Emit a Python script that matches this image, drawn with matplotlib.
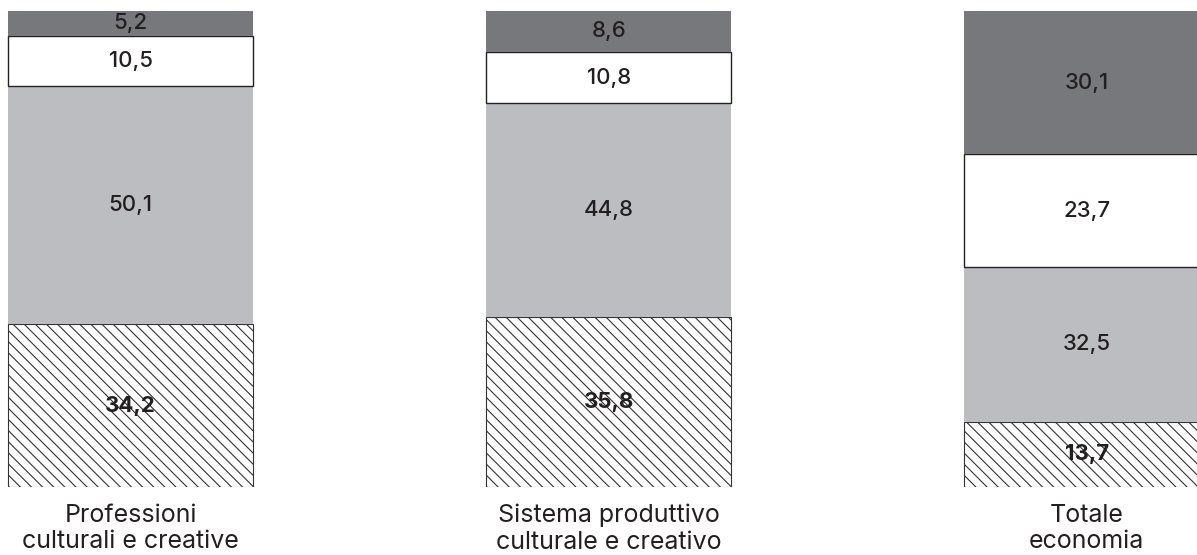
import matplotlib.pyplot as plt

plt.rcParams['font.family'] = ['Inter', 'DejaVu Sans']
plt.rcParams['hatch.linewidth'] = 0.8

categories = ["Professioni\nculturali e creative",
              "Sistema produttivo\nculturale e creativo",
              "Totale\neconomia"]
hatched = [34.2, 35.8, 13.7]
light = [50.1, 44.8, 32.5]
white = [10.5, 10.8, 23.7]
dark = [5.2, 8.6, 30.1]

text_col = "#231f20"
x = [0, 1, 2]
w = 0.513

fig = plt.figure(figsize=(11.97, 5.55), dpi=100)
ax = fig.add_axes([0, 0.1225, 1, 0.8577])

b1 = ax.bar(x, hatched, w, color="white", edgecolor="#333333", hatch="\\\\\\", linewidth=0.8)
bottom = hatched[:]
b2 = ax.bar(x, light, w, bottom=bottom, color="#bcbdc1", linewidth=0)
bottom = [a + b for a, b in zip(bottom, light)]
b3 = ax.bar(x, white, w, bottom=bottom, color="white", edgecolor="#222222", linewidth=1.0)
bottom2 = [a + b for a, b in zip(bottom, white)]
b4 = ax.bar(x, dark, w, bottom=bottom2, color="#77787c", linewidth=0)

def lab(bars, vals, bold=False):
    for r, v in zip(bars, vals):
        ax.text(r.get_x() + r.get_width() / 2, r.get_y() + r.get_height() / 2,
                f"{v:.1f}".replace(".", ","), ha="center", va="center",
                fontsize=16, color=text_col,
                fontweight="bold" if bold else "medium")

lab(b1, hatched, bold=True)
lab(b2, light)
lab(b3, white)
lab(b4, dark)

ax.set_xlim(-0.2735, 2.2307)
ax.set_ylim(0, 100)
ax.set_xticks(x)
ax.set_xticklabels(categories, fontsize=18, color=text_col, linespacing=1.2)
ax.tick_params(axis="x", length=0, pad=12)
ax.set_yticks([])
for s in ax.spines.values():
    s.set_visible(False)

fig.savefig("out.png", dpi=100)
